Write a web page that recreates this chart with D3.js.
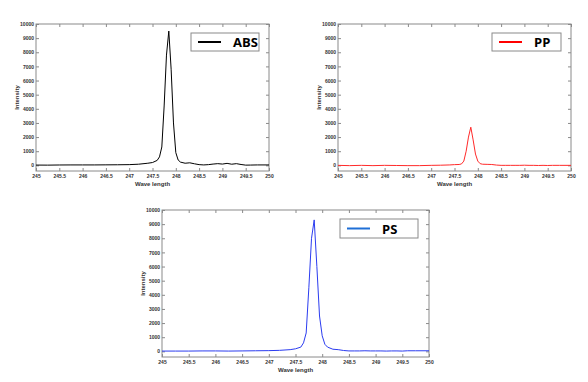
<!DOCTYPE html>
<html><head><meta charset="utf-8">
<script src="https://cdn.jsdelivr.net/npm/d3@7"></script>
<style>body{margin:0;background:#fff}svg{display:block}</style>
</head><body>
<svg id="c" width="588" height="382"></svg>
<script>
const wavelength = [245, 245.25, 245.5, 245.75, 246, 246.25, 246.5, 246.75, 247, 247.2, 247.4, 247.5, 247.6, 247.65, 247.7, 247.75, 247.8, 247.85, 247.9, 247.95, 248, 248.05, 248.1, 248.2, 248.3, 248.4, 248.5, 248.6, 248.7, 248.8, 248.9, 249, 249.1, 249.2, 249.3, 249.4, 249.5, 249.6, 249.75, 250];
const absIntensity = [20, 15, 25, 30, 30, 30, 35, 40, 50, 80, 150, 200, 350, 600, 1300, 4200, 7800, 9500, 6800, 3000, 900, 380, 230, 150, 180, 110, 50, 30, 50, 90, 120, 90, 140, 80, 120, 60, 15, 20, 30, 30];
const ppIntensity = [0, -20, 0, -20, 0, -10, -20, -20, 0, 10, 30, 50, 60, 100, 300, 1000, 2000, 2700, 1800, 800, 300, 120, 80, 70, 60, 20, 0, 0, 0, 0, 0, 10, 0, 0, -10, 0, -10, 0, 0, 0];
const psIntensity = [20, 20, 20, 30, 30, 20, 30, 40, 50, 70, 120, 180, 300, 600, 1300, 4500, 8000, 9300, 6000, 2500, 1100, 500, 300, 150, 120, 60, 30, 30, 30, 40, 30, 30, 30, 20, 30, 30, 20, 40, 40, 40];
const xTicks = [245, 245.5, 246, 246.5, 247, 247.5, 248, 248.5, 249, 249.5, 250];
const yTicks = [0, 1000, 2000, 3000, 4000, 5000, 6000, 7000, 8000, 9000, 10000];
const seriesNames = ["ABS", "PP", "PS"];
const xTitle = "Wave length", yTitle = "Intensity";

const panels = [
  {name: seriesNames[0], y: absIntensity, color: "#000000", legColor: "#000000", l: 36, r: 269, t: 24, b: 171, leg: [191, 33, 68, 18]},
  {name: seriesNames[1], y: ppIntensity, color: "#ff2a2a", legColor: "#ff0000", l: 338, r: 571, t: 24, b: 171, leg: [492, 33, 69, 18]},
  {name: seriesNames[2], y: psIntensity, color: "#2b3cf0", legColor: "#1f6fd6", l: 162, r: 429, t: 210, b: 357, leg: [340, 219, 78, 19]}
];

const svg = d3.select("#c");
const fmt = d => String(d);
const FONT = "Liberation Sans, Arial, sans-serif";

panels.forEach(p => {
  const x = d3.scaleLinear().domain([245, 250]).range([p.l, p.r]);
  const y = d3.scaleLinear().domain([-400, 10000]).range([p.b, p.t]);
  const g = svg.append("g");
  g.append("rect").attr("x", p.l).attr("y", p.t).attr("width", p.r - p.l).attr("height", p.b - p.t)
    .attr("fill", "none").attr("stroke", "#8a8a8a").attr("stroke-width", 1);
  const axStyle = sel => {
    sel.select(".domain").remove();
    sel.selectAll(".tick line").attr("stroke", "#8a8a8a");
    sel.selectAll(".tick text").attr("fill", "#333").style("font-family", FONT)
      .style("font-size", "5px").style("font-weight", "bold");
  };
  g.append("g").attr("transform", `translate(0,${p.b})`)
    .call(d3.axisBottom(x).tickValues(xTicks).tickFormat(fmt).tickSizeInner(-3).tickSizeOuter(0).tickPadding(3)).call(axStyle);
  g.append("g").attr("transform", `translate(0,${p.t})`)
    .call(d3.axisTop(x).tickValues(xTicks).tickFormat("").tickSizeInner(-3).tickSizeOuter(0)).call(axStyle);
  g.append("g").attr("transform", `translate(${p.l},0)`)
    .call(d3.axisLeft(y).tickValues(yTicks).tickFormat(fmt).tickSizeInner(-3).tickSizeOuter(0).tickPadding(2)).call(axStyle);
  g.append("g").attr("transform", `translate(${p.r},0)`)
    .call(d3.axisRight(y).tickValues(yTicks).tickFormat("").tickSizeInner(-3).tickSizeOuter(0)).call(axStyle);

  const data = wavelength.map((w, i) => [w, p.y[i]]);
  g.append("path").datum(data)
    .attr("d", d3.line().x(d => x(d[0])).y(d => y(d[1])))
    .attr("fill", "none").attr("stroke", p.color).attr("stroke-width", 1).attr("stroke-linejoin", "round");

  g.append("text").attr("x", (p.l + p.r) / 2).attr("y", p.b + 15).attr("text-anchor", "middle")
    .style("font-family", FONT).style("font-size", "6px").style("font-weight", "bold")
    .attr("fill", "#333").text(xTitle);
  g.append("text").attr("transform", `translate(${p.l - 17},${(p.t + p.b) / 2}) rotate(-90)`).attr("text-anchor", "middle")
    .style("font-family", FONT).style("font-size", "6px").style("font-weight", "bold")
    .attr("fill", "#333").text(yTitle);

  const [lx, ly, lw, lh] = p.leg;
  g.append("rect").attr("x", lx).attr("y", ly).attr("width", lw).attr("height", lh)
    .attr("fill", "#fff").attr("stroke", "#8a8a8a").attr("stroke-width", 1);
  g.append("line").attr("x1", lx + 7).attr("x2", lx + 30).attr("y1", ly + lh / 2).attr("y2", ly + lh / 2)
    .attr("stroke", p.legColor).attr("stroke-width", 2);
  g.append("text").attr("x", lx + 42).attr("y", ly + lh / 2 + 5)
    .style("font-family", "Open Sans, Liberation Sans, sans-serif").style("font-size", "13px").style("font-weight", "bold")
    .attr("fill", "#000").text(p.name);
});
</script>
</body></html>
